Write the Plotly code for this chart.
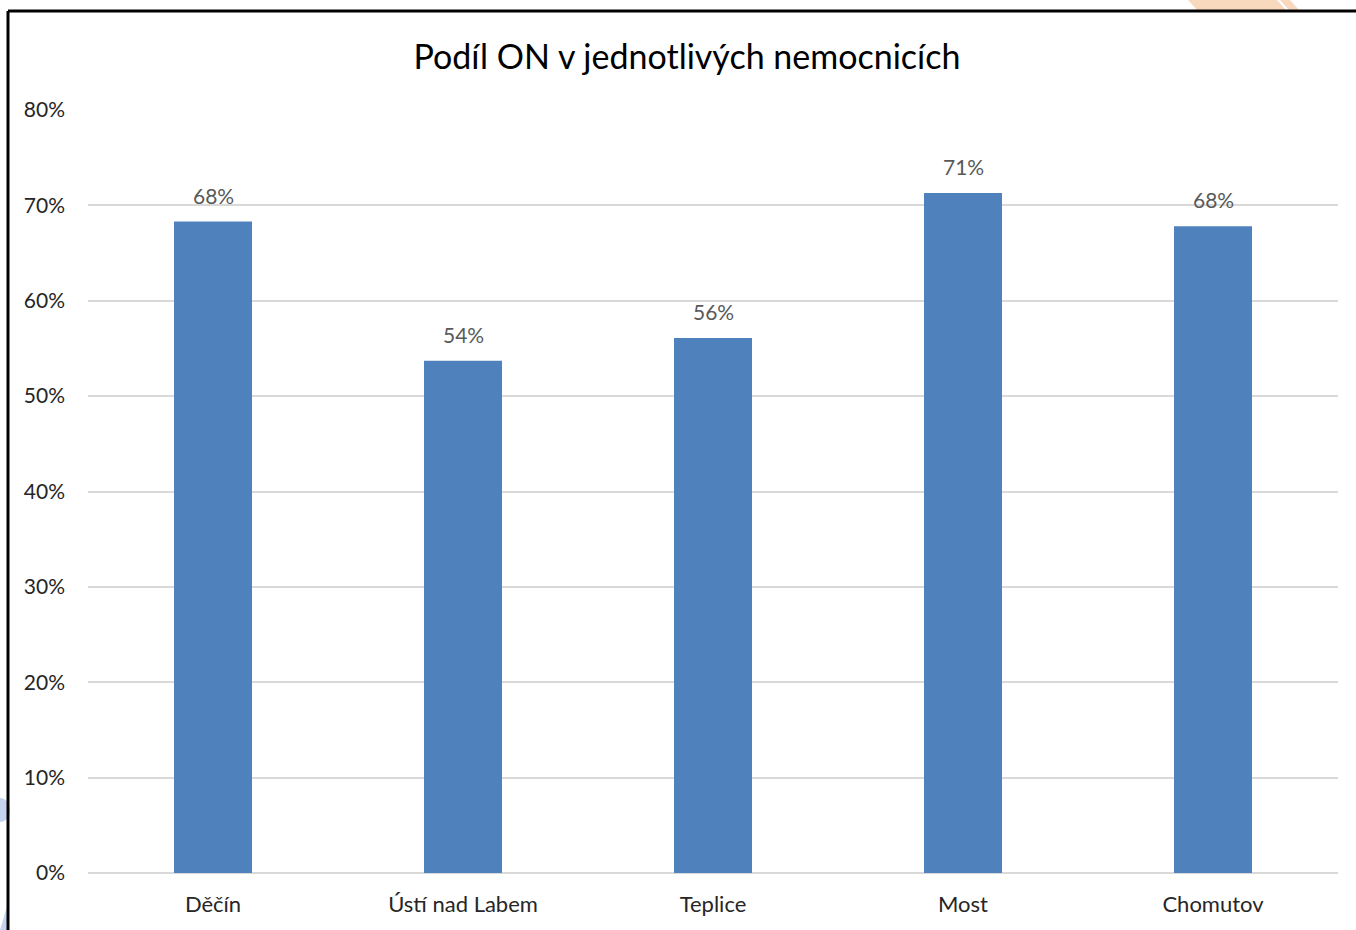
import plotly.graph_objects as go

categories = ["Děčín", "Ústí nad Labem", "Teplice", "Most", "Chomutov"]
values = [0.683, 0.537, 0.561, 0.713, 0.678]
labels = ["68%", "54%", "56%", "71%", "68%"]
tick_vals = [0, 0.1, 0.2, 0.3, 0.4, 0.5, 0.6, 0.7, 0.8]
tick_text = ["0%", "10%", "20%", "30%", "40%", "50%", "60%", "70%", "80%"]

FONT = "Lato, Carlito, Calibri, sans-serif"

fig = go.Figure(
    go.Bar(
        x=categories,
        y=values,
        marker=dict(color="#4f81bd", line=dict(width=0)),
        width=0.312,
        hoverinfo="x+y",
    )
)

annotations = [
    dict(x=c, y=v, text=t, xref="x", yref="y", showarrow=False,
         yanchor="bottom", yshift=12,
         font=dict(family=FONT, size=21, color="#595959"))
    for c, v, t in zip(categories, values, labels)
]

fig.update_layout(
    width=1356,
    height=930,
    margin=dict(l=88, r=18, t=110, b=57),
    paper_bgcolor="white",
    plot_bgcolor="white",
    showlegend=False,
    annotations=annotations,
    title=dict(
        text="Podíl ON v jednotlivých nemocnicích",
        font=dict(family=FONT, size=34, color="#000000"),
        x=687 / 1356, xanchor="center",
        y=1 - 57 / 930, yanchor="middle",
    ),
    xaxis=dict(
        showgrid=False,
        showline=False,
        ticks="",
        ticklabelstandoff=16,
        tickfont=dict(family=FONT, size=22, color="#262626"),
        range=[-0.5, 4.5],
    ),
    yaxis=dict(
        range=[0, 0.8],
        tickvals=tick_vals,
        ticktext=tick_text,
        showgrid=True,
        gridcolor="#d9d9d9",
        gridwidth=2,
        zeroline=True,
        zerolinecolor="#d9d9d9",
        zerolinewidth=2,
        showline=False,
        ticks="",
        ticklabelstandoff=22,
        tickfont=dict(family=FONT, size=21, color="#262626"),
    ),
    shapes=[
        # decorative background pieces
        dict(type="path", xref="paper", yref="paper",
             path="M 0.8800 1.1442 L 0.9512 1.1442 L 0.9584 1.1311 L 0.8872 1.1311 Z",
             fillcolor="#f8d9bd", line=dict(width=0), layer="below"),
        dict(type="path", xref="paper", yref="paper",
             path="M 0.9536 1.1442 L 0.9616 1.1442 L 0.9688 1.1311 L 0.9608 1.1311 Z",
             fillcolor="#f8d9bd", line=dict(width=0), layer="below"),
        dict(type="circle", xref="paper", yref="paper",
             x0=-0.0784, x1=-0.0624, y0=0.0668, y1=0.0983,
             fillcolor="#c5d3ee", line=dict(width=0), layer="below"),
        dict(type="path", xref="paper", yref="paper",
             path="M -0.0704 -0.0747 L -0.0640 -0.0747 L -0.0640 -0.0400 Z",
             fillcolor="#c5d3ee", line=dict(width=0), layer="below"),
        # chart frame
        dict(type="line", xref="paper", yref="paper",
             x0=-0.0640, x1=1.0200, y0=1.1297, y1=1.1297,
             line=dict(color="#000000", width=3)),
        dict(type="line", xref="paper", yref="paper",
             x0=-0.0640, x1=-0.0640, y0=1.1297, y1=-0.0800,
             line=dict(color="#000000", width=3)),
    ],
)

fig.write_html(
    "out.html",
    config={"displayModeBar": False},
    post_script="document.body.style.margin='0';document.body.style.overflow='hidden';",
)
